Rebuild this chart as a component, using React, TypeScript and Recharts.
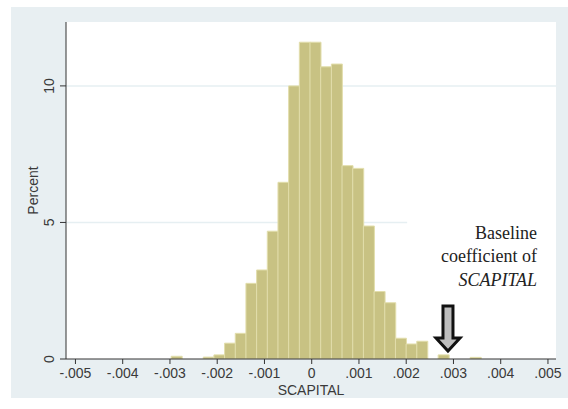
import React from 'react'
import { BarChart, Bar, XAxis, YAxis, CartesianGrid, ReferenceLine, ReferenceDot, Label } from 'recharts'

// bin centres of the histogram (SCAPITAL)
const binCenters = [
  -0.002861, -0.002635, -0.002409, -0.002183, -0.001957, -0.001731, -0.001505, -0.001279,
  -0.001053, -0.000827, -0.000601, -0.000375, -0.000149, 0.000077, 0.000303, 0.000529,
  0.000755, 0.000981, 0.001207, 0.001433, 0.001659, 0.001885, 0.002111, 0.002337,
  0.002563, 0.002789, 0.003015, 0.003241, 0.003467,
]
// percent in each bin
const percents = [
  0.1, 0, 0, 0.07, 0.15, 0.58, 0.94, 2.77,
  3.26, 4.68, 6.47, 10.0, 11.6, 11.6, 10.7, 10.8,
  7.08, 6.98, 4.87, 2.47, 2.06, 0.76, 0.55, 0.65,
  0, 0.15, 0, 0, 0.06,
]
const xTicks = [-0.005, -0.004, -0.003, -0.002, -0.001, 0, 0.001, 0.002, 0.003, 0.004, 0.005]
const yTicks = [0, 5, 10]
const baselineCoef = 0.002884
const noteLines = ['Baseline', 'coefficient of', 'SCAPITAL']

const data = binCenters.map((x, i) => ({ x, pct: percents[i] }))

const X_DOMAIN: [number, number] = [-0.0052, 0.00517]
const Y_DOMAIN: [number, number] = [0, 12.34]
const MARGIN = { top: 22, right: 12, left: 0, bottom: 10 }
const FONT = 'Liberation Sans, Arial, sans-serif'

const fmtX = (v: number) => {
  if (v === 0) return '0'
  return v.toFixed(3).replace('0.', '.')
}

const YTick = (props: any) => {
  const { x, y, payload } = props
  return (
    <text
      x={x - 4}
      y={y}
      transform={`rotate(-90 ${x - 4} ${y})`}
      textAnchor="middle"
      fontSize={14}
      fill="#3a3a3a"
      fontFamily={FONT}
    >
      {payload.value}
    </text>
  )
}

const Arrow = (props: any) => {
  const { cx, cy } = props
  const pts = [
    [cx - 5, cy - 53], [cx + 5, cy - 53], [cx + 5, cy - 21], [cx + 12, cy - 21],
    [cx, cy - 8], [cx - 12, cy - 21], [cx - 5, cy - 21],
  ].map(p => p.join(',')).join(' ')
  return <polygon points={pts} fill="#bdbdbd" stroke="#111" strokeWidth={3} />
}

const Note = (props: any) => {
  const { cx, cy } = props
  return (
    <text x={cx} y={cy} textAnchor="end" fontSize={18} fill="#222" fontFamily="Liberation Serif, Times New Roman, serif">
      {noteLines.map((t, i) => (
        <tspan key={t} x={cx} dy={i === 0 ? 0 : 23.5} fontStyle={i === 2 ? 'italic' : 'normal'}>
          {t}
        </tspan>
      ))}
    </text>
  )
}

// background layer: white plot area + grid lines (kept under the bars)
function GridLayer() {
  return (
    <BarChart width={568} height={409} data={data} margin={MARGIN}>
      <CartesianGrid fill="#ffffff" stroke="none" vertical={false} horizontal={false} />
      <XAxis dataKey="x" type="number" domain={X_DOMAIN} ticks={xTicks} allowDataOverflow height={40} stroke="none" tick={false} />
      <YAxis type="number" domain={Y_DOMAIN} ticks={yTicks} allowDataOverflow width={66} stroke="none" tick={false} />
      <ReferenceLine y={10} stroke="#e6eff2" strokeWidth={1.5} />
      <ReferenceLine segment={[{ x: X_DOMAIN[0], y: 5 }, { x: 0.00202, y: 5 }]} stroke="#e6eff2" strokeWidth={1.5} />
    </BarChart>
  )
}

export default function App() {
  return (
    <div style={{ position: 'absolute', left: 0, top: 0, width: 568, height: 409, background: '#fff' }}>
      <div style={{ position: 'absolute', left: 11, top: 7, width: 557, height: 391, background: '#e8eff2' }} />
      <div style={{ position: 'absolute', left: 0, top: 0 }}>
        <GridLayer />
      </div>
      <div style={{ position: 'absolute', left: 0, top: 0 }}>
        <BarChart width={568} height={409} data={data} margin={MARGIN} barCategoryGap={0} barGap={0}>
          <XAxis
            dataKey="x"
            type="number"
            domain={X_DOMAIN}
            ticks={xTicks}
            tickFormatter={fmtX}
            allowDataOverflow
            height={40}
            tickSize={5}
            tickMargin={4}
            stroke="#333"
            tick={{ fontSize: 14, fill: '#3a3a3a', fontFamily: FONT }}
          >
            <Label value="SCAPITAL" position="insideBottom" offset={4} style={{ fontSize: 14, fill: '#3a3a3a', fontFamily: FONT }} />
          </XAxis>
          <YAxis
            type="number"
            domain={Y_DOMAIN}
            ticks={yTicks}
            allowDataOverflow
            width={66}
            tickSize={6}
            stroke="#333"
            tick={<YTick />}
          >
            <Label
              value="Percent"
              angle={-90}
              position="insideLeft"
              offset={33}
              style={{ textAnchor: 'middle', fontSize: 14, fill: '#3a3a3a', fontFamily: FONT }}
            />
          </YAxis>
          <Bar dataKey="pct" fill="#c8c283" stroke="#e2deac" strokeWidth={1} isAnimationActive={false} />
          <ReferenceDot x={baselineCoef} y={0} shape={<Arrow />} />
          <ReferenceDot x={0.00477} y={4.41} shape={<Note />} />
        </BarChart>
      </div>
    </div>
  )
}
